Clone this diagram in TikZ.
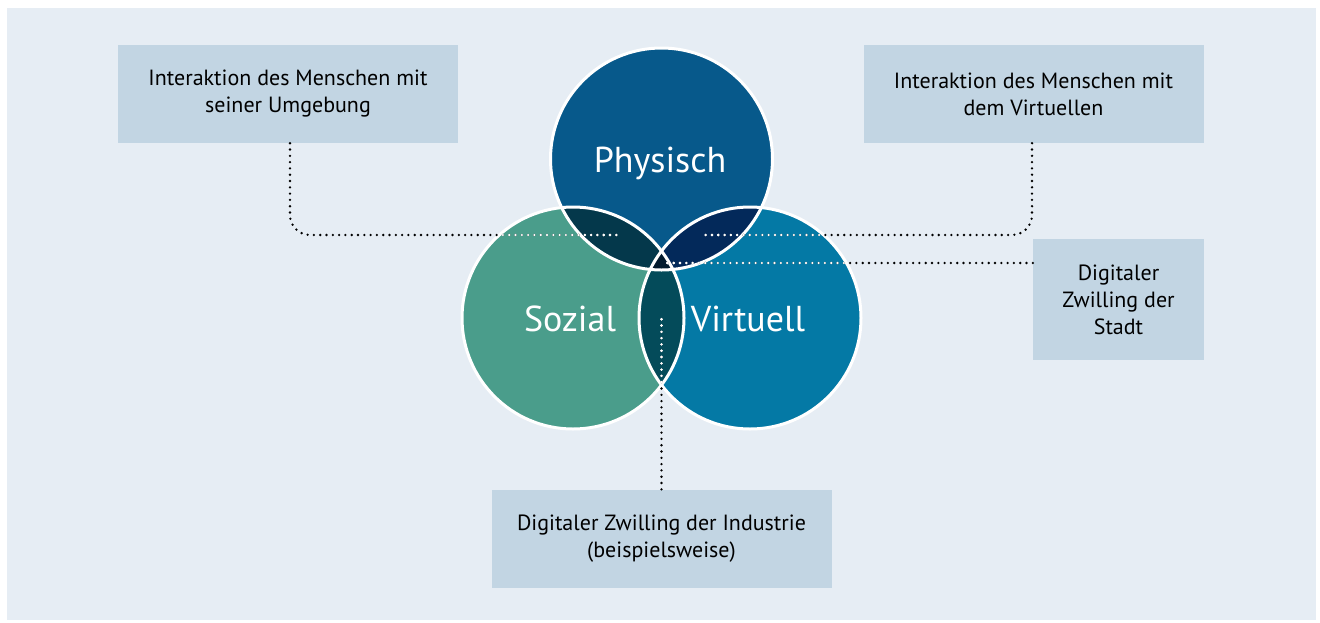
\documentclass[tikz,border=0pt]{standalone}
\usepackage{fontspec}
\setmainfont{PT Sans}
\definecolor{hintergrund}{HTML}{E6EDF4}
\definecolor{boxblau}{HTML}{C2D5E3}
\definecolor{physischblau}{HTML}{07598B}
\definecolor{sozialgruen}{HTML}{4A9D8B}
\definecolor{virtuellblau}{HTML}{0479A5}
\definecolor{psblau}{HTML}{04384B}
\definecolor{pvblau}{HTML}{03295A}
\definecolor{svblau}{HTML}{044B5A}
\definecolor{psvblau}{HTML}{021A2D}
\newcommand{\verbinder}[1]{%
    \draw[punkte,#1,rounded corners=20pt] ([xshift=2pt]umgebung.south) |- (endeUmgebung);
    \draw[punkte,#1,rounded corners=20pt] ([xshift=-1.5pt]virtuellbox.south) |- (endeVirtuell);
    \draw[punkte,#1] (stadt.west |- endeStadt) -- (endeStadt);
    \draw[punkte,#1] (industrie.north) -- (endeIndustrie);
}

\begin{document}
\begin{tikzpicture}[x=1pt,y=-1pt,
    box/.style={fill=boxblau, minimum width=340pt, minimum height=98pt, inner sep=0pt,
        align=center, font=\fontsize{22}{27}\selectfont},
    kreistext/.style={text=white, font=\fontsize{36}{40}\selectfont},
    punkte/.style={line width=2.6pt, line cap=round, dash pattern=on 0pt off 6.3pt}]
    % Hintergrund
    \fill[white] (0,0) rectangle (1320,622);
    \fill[hintergrund] (7,8) rectangle (1316,620);

    % Kreise
    \fill[physischblau] (661.5,159) circle[radius=111pt];
    \fill[sozialgruen] (573,318) circle[radius=111pt];
    \fill[virtuellblau] (750,318) circle[radius=111pt];

    % Schnittmengen
    \begin{scope}
        \clip (661.5,159) circle[radius=111pt];
        \fill[psblau] (573,318) circle[radius=111pt];
        \fill[pvblau] (750,318) circle[radius=111pt];
        \clip (573,318) circle[radius=111pt];
        \fill[psvblau] (750,318) circle[radius=111pt];
    \end{scope}
    \begin{scope}
        \clip (573,318) circle[radius=111pt];
        \clip (750,318) circle[radius=111pt];
        \fill[svblau] (750,318) circle[radius=111pt];
        \clip (661.5,159) circle[radius=111pt];
        \fill[psvblau] (750,318) circle[radius=111pt];
    \end{scope}

    % Kreisraender
    \draw[white, line width=3pt] (661.5,159) circle[radius=111pt];
    \draw[white, line width=3pt] (573,318) circle[radius=111pt];
    \draw[white, line width=3pt] (750,318) circle[radius=111pt];

    \node[kreistext] (physisch) at (660,163) {Physisch};
    \node[kreistext] (sozial) at (570,319) {Sozial};
    \node[kreistext] (virtuell) at (748,319) {Virtuell};

    % Kaesten
    \node[box] (umgebung) at (288,94) {Interaktion des Menschen mit\\seiner Umgebung};
    \node[box] (virtuellbox) at (1033.5,94) {Interaktion des Menschen mit\\dem Virtuellen};
    \node[box, minimum width=171pt, minimum height=121pt] (stadt) at (1118.5,299.5) {Digitaler\\Zwilling der\\Stadt};
    \node[box] (industrie) at (661.5,538.5) {Digitaler Zwilling der Industrie\\(beispielsweise)};

    % Punktlinien
    \coordinate (endeUmgebung) at (620,235);
    \coordinate (endeVirtuell) at (705,235);
    \coordinate (endeStadt) at (662,263);
    \coordinate (endeIndustrie) at (661.5,317);
    \verbinder{black}
    \begin{scope}
        \clip (661.5,159) circle[radius=111pt];
        \verbinder{white}
    \end{scope}
    \begin{scope}
        \clip (573,318) circle[radius=111pt];
        \verbinder{white}
    \end{scope}
    \begin{scope}
        \clip (750,318) circle[radius=111pt];
        \verbinder{white}
    \end{scope}
\end{tikzpicture}
\end{document}
